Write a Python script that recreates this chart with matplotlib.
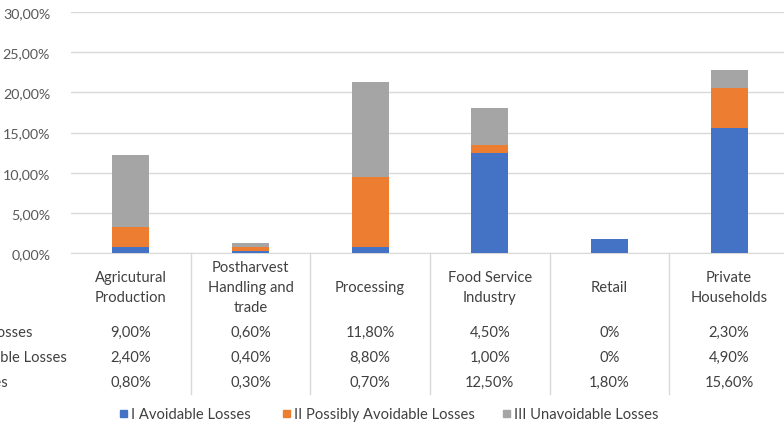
import matplotlib.pyplot as plt
from matplotlib.ticker import FuncFormatter
from matplotlib.patches import Rectangle

plt.rcParams['font.family'] = ['Lato', 'DejaVu Sans']

stages = ['Agricutural\nProduction', 'Postharvest\nHandling and\ntrade', 'Processing',
          'Food Service\nIndustry', 'Retail', 'Private\nHouseholds']
avoidable = [0.80, 0.30, 0.70, 12.50, 1.80, 15.60]
possibly = [2.40, 0.40, 8.80, 1.00, 0.0, 4.90]
unavoidable = [9.00, 0.60, 11.80, 4.50, 0.0, 2.30]
series_names = ['I Avoidable Losses', 'II Possibly Avoidable Losses', 'III Unavoidable Losses']
colors = ['#4472C4', '#ED7D31', '#A5A5A5']

W, H = 784, 427
fig = plt.figure(figsize=(W / 100, H / 100), dpi=100)
ax = fig.add_axes([71 / W, (H - 254) / H, 718 / W, 241 / H])

x = list(range(len(stages)))
bottom2 = [a + b for a, b in zip(avoidable, possibly)]
ax.bar(x, avoidable, width=0.31, color=colors[0], zorder=3)
ax.bar(x, possibly, width=0.31, bottom=avoidable, color=colors[1], zorder=3)
ax.bar(x, unavoidable, width=0.31, bottom=bottom2, color=colors[2], zorder=3)

ax.set_xlim(-0.5, len(stages) - 0.5)
ax.set_ylim(0, 30)
ax.set_yticks([0, 5, 10, 15, 20, 25, 30])
ax.yaxis.set_major_formatter(FuncFormatter(lambda v, p: ('%.2f%%' % v).replace('.', ',')))
ax.tick_params(axis='y', length=0, pad=15, labelsize=10.3, labelcolor='#595959')
ax.set_xticks([])
ax.grid(axis='y', color='#D9D9D9', linewidth=1, zorder=0)
for s in ['top', 'right', 'left']:
    ax.spines[s].set_visible(False)
ax.spines['bottom'].set_color('#D9D9D9')

# data table under the plot
def fy(py):
    return (H - py) / H

for i in range(1, len(stages)):
    ax.plot([i - 0.5, i - 0.5], [0, -141 / 241], color='#D9D9D9', lw=1,
            clip_on=False, transform=ax.get_xaxis_transform())

for i, name in enumerate(stages):
    ax.text(i, -(288 - 254) / 241, name, ha='center', va='center', fontsize=10.6,
            color='#404040', linespacing=1.5, transform=ax.get_xaxis_transform())

def pct(v):
    return '0%' if v == 0 else ('%.2f%%' % v).replace('.', ',')

rows = [(unavoidable, 333, 'III Unavoidable Losses', 33),
        (possibly, 358, 'II Possibly Avoidable Losses', 67),
        (avoidable, 383, 'I Avoidable Losses', 8)]
for vals, py, label, right in rows:
    fig.text(right / W, fy(py), label, ha='right', va='center', fontsize=10.6, color='#404040')
    for i, v in enumerate(vals):
        ax.text(i, -(py - 254) / 241, pct(v), ha='center', va='center', fontsize=10.6,
                color='#404040', transform=ax.get_xaxis_transform())

# legend
legend_items = [(120, series_names[0], colors[0]), (283, series_names[1], colors[1]),
                (503, series_names[2], colors[2])]
for px, label, c in legend_items:
    fig.patches.append(Rectangle((px / W, fy(418)), 7 / W, 7 / H, color=c,
                                 transform=fig.transFigure, figure=fig))
    fig.text((px + 11) / W, fy(415), label, ha='left', va='center', fontsize=10.6, color='#404040')

fig.savefig('out.png', dpi=100)
